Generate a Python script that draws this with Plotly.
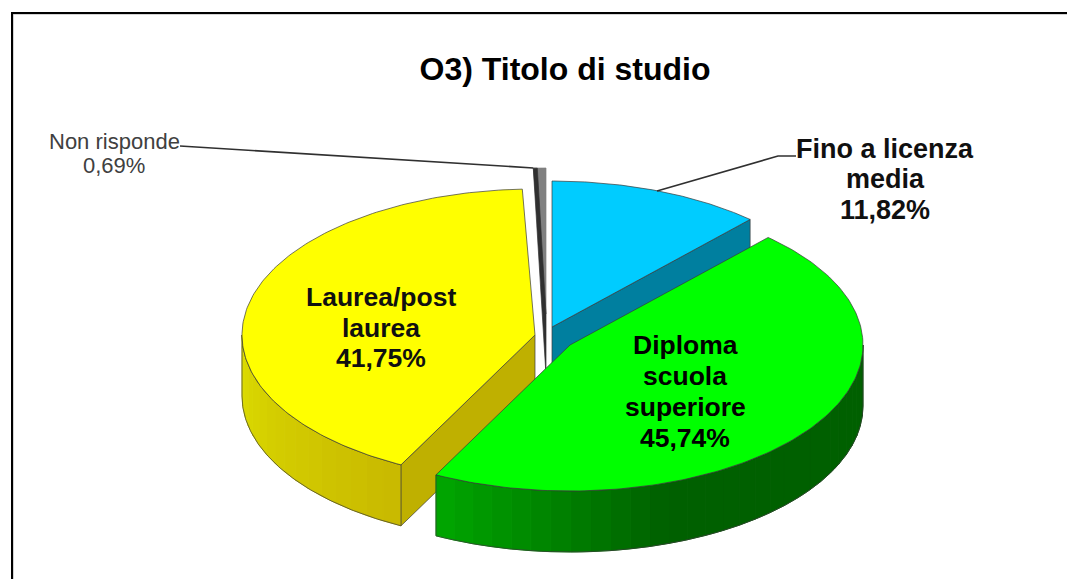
import numpy as np
import plotly.graph_objects as go

# ---- data ----
categories = ["Fino a licenza media", "Diploma scuola superiore", "Laurea/post laurea", "Non risponde"]
values = [11.82, 45.74, 41.75, 0.69]
value_labels = ["11,82%", "45,74%", "41,75%", "0,69%"]
title_text = "O3) Titolo di studio"

# ---- styling / geometry of the exploded 3D look ----
face_colors = ["#00CCFF", "#00FF00", "#FFFF00", "#808080"]
wall_colors = ["#007F9F", None, "#BFB000", "#303030"]
wall_side = ["end", None, "start", "start"]
wall_lip = [0, 0, 0, 4]
rim_from = ["#00CCFF", "#00A400", "#DCDC00", "#404040"]
rim_to = ["#00CCFF", "#006000", "#C8B800", "#404040"]
rim_reach = [1, 0.38, 1, 1]
apex_x = [552, 570, 535, 546]
apex_y = [327, 345, 335, 314]
RX, RY, DEPTH = 293, 146, 61
draw_order = [3, 2, 0, 1]
EDGE = "#3a3a3a"

total = sum(values)
starts = np.cumsum([0] + values[:-1]) / total * 360
ends = np.cumsum(values) / total * 360


def rim(i, a):
    t = np.radians(a)
    return apex_x[i] + RX * np.sin(t), apex_y[i] - RY * np.cos(t)


def mix(c1, c2, f):
    a = [int(c1[k:k + 2], 16) for k in (1, 3, 5)]
    b = [int(c2[k:k + 2], 16) for k in (1, 3, 5)]
    return "rgb(%d,%d,%d)" % tuple(round(p + (q - p) * f) for p, q in zip(a, b))


fig = go.Figure()


def poly(xs, ys, fill, line=None, width=0.7):
    fig.add_trace(go.Scatter(
        x=list(xs), y=list(ys), mode="lines", fill="toself", fillcolor=fill,
        line=dict(color=line or fill, width=width), hoverinfo="skip", showlegend=False))


for i in draw_order:
    s, e = starts[i], ends[i]
    # inner wall (plain box wall, drawn before the face)
    if wall_side[i] and not wall_lip[i]:
        a = e if wall_side[i] == "end" else s
        cx, cy = rim(i, a)
        poly([cx, apex_x[i], apex_x[i], cx, cx],
             [cy, apex_y[i], apex_y[i] + DEPTH, cy + DEPTH, cy], wall_colors[i], EDGE)
    # outer rim, visible only on the front half, drawn band by band for the shading
    rs, re = max(s, 90), min(e, 270)
    if re > rs:
        grid = np.linspace(rs, re, int((re - rs) / 4) + 2)
        for k in range(len(grid) - 1):
            a0, a1 = grid[k], grid[k + 1]
            x0, y0 = rim(i, a0)
            x1, y1 = rim(i, a1)
            f = min(1, (re - a1) / (re - rs) / rim_reach[i])
            col = mix(rim_from[i], rim_to[i], f)
            poly([x0, x1, x1, x0, x0], [y0, y1, y1 + DEPTH, y0 + DEPTH, y0], col, col, 1)
        g = np.linspace(rs, re, 120)
        pts = [rim(i, a) for a in g]
        fig.add_trace(go.Scatter(
            x=[p[0] for p in pts] + [p[0] for p in pts[::-1]] + [pts[0][0]],
            y=[p[1] + DEPTH for p in pts] + [p[1] for p in pts[::-1]] + [pts[0][1] + DEPTH],
            mode="lines", line=dict(color=EDGE, width=0.7), hoverinfo="skip", showlegend=False))
    # top face
    g = np.linspace(s, e, 160)
    pts = [rim(i, a) for a in g]
    poly([apex_x[i]] + [p[0] for p in pts] + [apex_x[i]],
         [apex_y[i]] + [p[1] for p in pts] + [apex_y[i]], face_colors[i],
         EDGE if not wall_lip[i] else face_colors[i])
    # thin slice: its wall is seen as a long wedge lying over the face
    if wall_lip[i]:
        cx, cy = rim(i, s)
        poly([cx, cx + wall_lip[i], apex_x[i], apex_x[i], cx],
             [cy, cy, apex_y[i], apex_y[i] + DEPTH, cy], wall_colors[i], wall_colors[i])

# leader lines
fig.add_trace(go.Scatter(x=[180, 196, rim(3, starts[3])[0]], y=[146, 147, 168], mode="lines",
                         line=dict(color="#303030", width=1.6), hoverinfo="skip", showlegend=False))
fig.add_trace(go.Scatter(x=[796, 778, 657], y=[156, 156, 191], mode="lines",
                         line=dict(color="#303030", width=1.6), hoverinfo="skip", showlegend=False))

# labels, line by line
label_lines = [
    (["Fino a licenza", "media", value_labels[0]], 885, [149, 179, 210], 27, True, "#101010"),
    (["Diploma", "scuola", "superiore", value_labels[1]], 685, [345, 376, 407, 438], 26.5, True, "#000000"),
    (["Laurea/post", "laurea", value_labels[2]], 381, [297, 328, 358], 26.5, True, "#101010"),
    (["Non risponde", value_labels[3]], 114, [141, 165], 22, False, "#404040"),
]
annotations = []
for lines, x, ys, size, bold, col in label_lines:
    for txt, y in zip(lines, ys):
        annotations.append(dict(
            x=x, y=y, xref="x", yref="y", showarrow=False, xanchor="center", yanchor="middle",
            text=f"<b>{txt}</b>" if bold else txt,
            font=dict(family="Liberation Sans", size=size, color=col)))

fig.update_layout(
    width=1067, height=579, margin=dict(l=0, r=0, t=0, b=0),
    paper_bgcolor="white", plot_bgcolor="white", showlegend=False,
    title=dict(text=f"<b>{title_text}</b>", x=565 / 1067, y=1 - 69 / 579, xanchor="center", yanchor="middle",
               font=dict(family="Liberation Sans", size=32, color="#000000")),
    xaxis=dict(visible=False, range=[0, 1067], fixedrange=True),
    yaxis=dict(visible=False, range=[579, 0], fixedrange=True),
    annotations=annotations,
    shapes=[
        dict(type="line", xref="x", yref="y", x0=12, x1=1067, y0=14, y1=14, line=dict(color="#a8a8a8", width=1)),
        dict(type="line", xref="x", yref="y", x0=13, x1=13, y0=13, y1=579, line=dict(color="#a8a8a8", width=1)),
        dict(type="line", xref="x", yref="y", x0=11, x1=1067, y0=13, y1=13, line=dict(color="#000000", width=2)),
        dict(type="line", xref="x", yref="y", x0=12, x1=12, y0=12, y1=579, line=dict(color="#000000", width=2)),
    ],
)
fig.write_html("out.html", config=dict(displayModeBar=False),
               post_script="document.body.style.margin='0';document.body.style.overflow='hidden';")
